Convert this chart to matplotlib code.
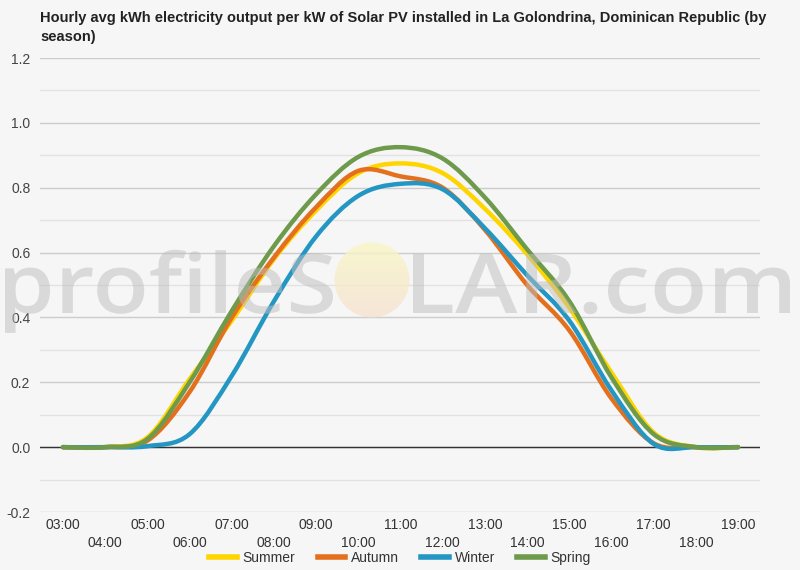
import matplotlib.pyplot as plt
import numpy as np
from matplotlib.path import Path
from matplotlib.patches import PathPatch, Circle
from matplotlib.lines import Line2D
from matplotlib.textpath import TextPath
from matplotlib.font_manager import FontProperties
from matplotlib.transforms import Affine2D
from matplotlib.ticker import NullFormatter

plt.rcParams['font.family'] = ['Liberation Sans', 'DejaVu Sans']

title = ("Hourly avg kWh electricity output per kW of Solar PV installed in La Golondrina, Dominican Republic (by\n"
         "season)")

hours = [3, 4, 5, 6, 7, 8, 9, 10, 11, 12, 13, 14, 15, 16, 17, 18, 19]
hour_labels = ["03:00", "04:00", "05:00", "06:00", "07:00", "08:00", "09:00", "10:00", "11:00",
               "12:00", "13:00", "14:00", "15:00", "16:00", "17:00", "18:00", "19:00"]

summer = [0, 0, 0.03, 0.21, 0.39, 0.58, 0.73, 0.845, 0.875, 0.845, 0.735, 0.595, 0.43, 0.23, 0.045, 0, 0]
autumn = [0, 0, 0.02, 0.17, 0.40, 0.585, 0.74, 0.852, 0.835, 0.80, 0.67, 0.50, 0.36, 0.15, 0.012, 0, 0]
winter = [0, 0, 0.003, 0.04, 0.22, 0.45, 0.65, 0.775, 0.812, 0.795, 0.675, 0.53, 0.39, 0.175, 0.01, 0, 0]
spring = [0, 0, 0.025, 0.20, 0.42, 0.62, 0.78, 0.895, 0.925, 0.89, 0.77, 0.61, 0.45, 0.215, 0.04, 0, 0]

series = ["Summer", "Autumn", "Winter", "Spring"]
colors = ["#FFD500", "#E4701E", "#2396C4", "#6E9A4B"]

bg = "#f6f6f6"


def smooth_path(x, y, k=1 / 6):
    # bezier through the points, like the curveType "function" look
    x = np.asarray(x, float)
    y = np.asarray(y, float)
    n = len(x)
    verts = [(x[0], y[0])]
    codes = [Path.MOVETO]
    for i in range(n - 1):
        i0 = max(i - 1, 0)
        i3 = min(i + 2, n - 1)
        c1 = (x[i] + (x[i + 1] - x[i0]) * k, y[i] + (y[i + 1] - y[i0]) * k)
        c2 = (x[i + 1] - (x[i3] - x[i]) * k, y[i + 1] - (y[i3] - y[i]) * k)
        verts += [c1, c2, (x[i + 1], y[i + 1])]
        codes += [Path.CURVE4] * 3
    return Path(verts, codes)


def fitted_text(ax, s, x0, x1, baseline, cap, **kw):
    # text path stretched to a pixel box (x0..x1 wide, cap height above baseline)
    fp = FontProperties(family='Open Sans', weight='semibold')
    tp = TextPath((0, 0), s, size=100, prop=fp)
    ext = tp.get_extents()
    sx = (x1 - x0) / ext.width
    sy = cap / 71.4
    tr = Affine2D().translate(-ext.x0, 0).scale(sx, -sy).translate(x0, baseline)
    ax.add_patch(PathPatch(tr.transform_path(tp), lw=0, **kw))


fig = plt.figure(figsize=(8, 5.7), dpi=100, facecolor=bg)
ax = fig.add_axes([40 / 800, 1 - 512 / 570, 720 / 800, 454 / 570], facecolor=bg)

for name, vals, c in zip(series, [summer, autumn, winter, spring], colors):
    ax.add_patch(PathPatch(smooth_path(hours, vals), facecolor='none', edgecolor=c,
                           lw=3.2, capstyle='round', joinstyle='round', zorder=3))

ax.set_xlim(2.455, 19.52)
ax.set_ylim(-0.2, 1.2)
ax.set_yticks(np.arange(-0.2, 1.21, 0.2))
ax.set_yticks(np.arange(-0.2, 1.21, 0.1), minor=True)
ax.yaxis.set_minor_formatter(NullFormatter())
ax.set_yticklabels(["%.1f" % v for v in np.arange(-0.2, 1.21, 0.2)])
ax.grid(True, which='major', axis='y', color='#cccccc', lw=1)
ax.grid(True, which='minor', axis='y', color='#e2e2e2', lw=1)
ax.axhline(0, color='#333333', lw=1, zorder=2)
ax.set_axisbelow(True)

ax.set_xticks(hours)
ax.set_xticklabels([lab if i % 2 == 0 else "\n" + lab for i, lab in enumerate(hour_labels)],
                   linespacing=1.4)
ax.tick_params(axis='both', which='both', length=0, labelsize=10, labelcolor='#444444')
ax.tick_params(axis='x', pad=4, labelcolor='#333333')
ax.tick_params(axis='y', pad=7)
for s in ax.spines.values():
    s.set_visible(False)

fig.text(40 / 800, 1 - 11 / 570, title, ha='left', va='top', fontsize=10.5, fontweight='bold',
         color='#222222', linespacing=1.45)

handles = [Line2D([], [], color=c, lw=4) for c in colors]
fig.legend(handles, series, loc='center', bbox_to_anchor=(0.5, 1 - 558 / 570), ncol=4,
           frameon=False, fontsize=10, handlelength=2.0, columnspacing=1.6, handletextpad=0.4,
           labelcolor='#333333')

# watermark overlay in pixel coords
wm = fig.add_axes([0, 0, 1, 1], zorder=5)
wm.set_xlim(0, 800)
wm.set_ylim(570, 0)
wm.axis('off')
wm.patch.set_alpha(0)
grad = np.linspace(0, 1, 100)[:, None]
sun_cmap = plt.matplotlib.colors.LinearSegmentedColormap.from_list("sun", ["#f9f6c4", "#f6e2d2"])
im = wm.imshow(grad, cmap=sun_cmap, extent=(334, 410, 318, 242), aspect='auto', alpha=0.8, zorder=1)
circ = Circle((372, 280), 37.5, transform=wm.transData, facecolor='none', edgecolor='none')
wm.add_patch(circ)
im.set_clip_path(circ)
fitted_text(wm, "profileS", 5, 333, 313, 59, facecolor='#bdbdbd', alpha=0.5, zorder=2)
fitted_text(wm, "LAR.com", 413, 790, 313, 59, facecolor='#bdbdbd', alpha=0.5, zorder=2)

fig.savefig("out.png", dpi=100, facecolor=bg)
